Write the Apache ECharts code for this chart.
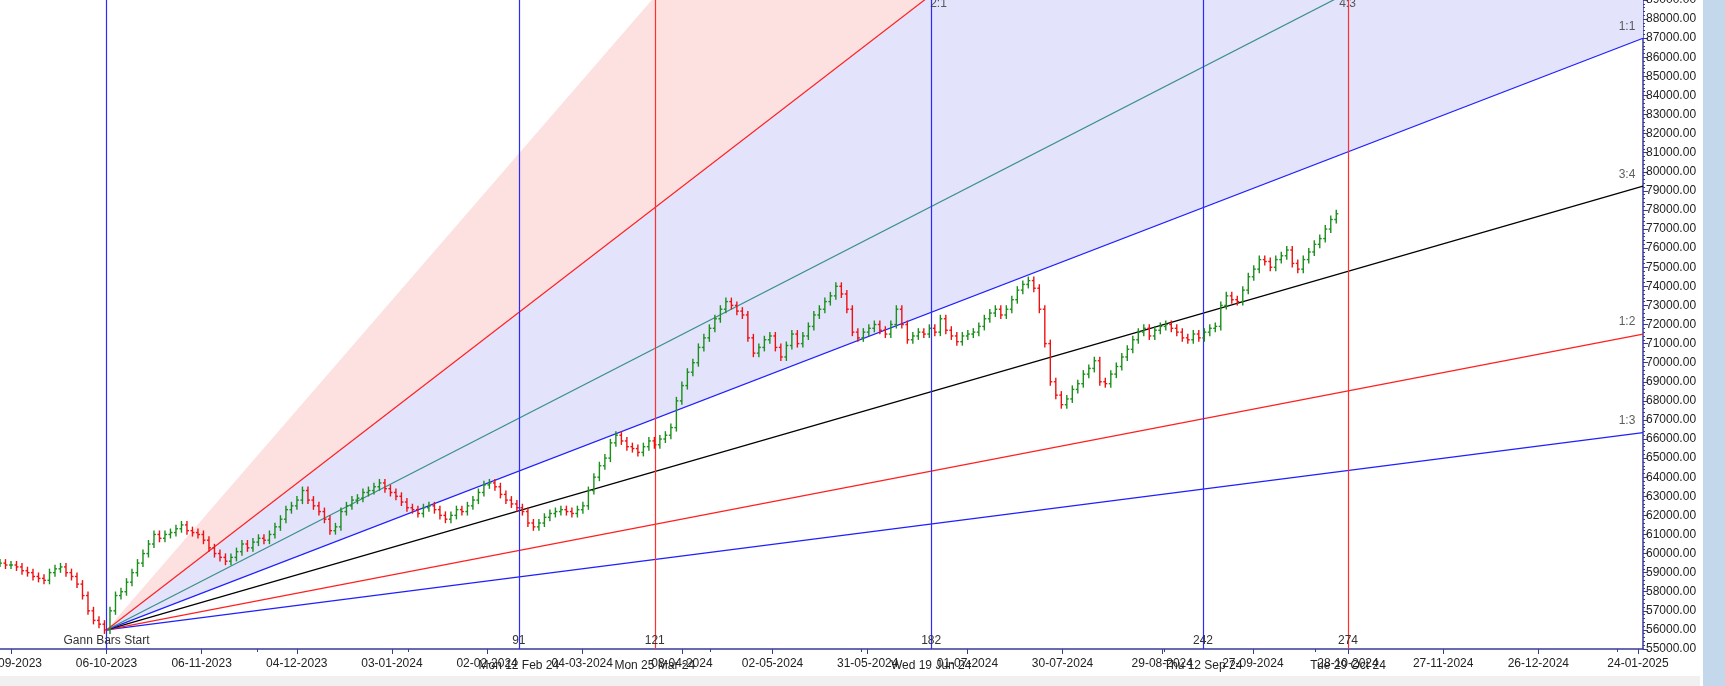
<!DOCTYPE html>
<html><head><meta charset="utf-8">
<script src="https://cdn.jsdelivr.net/npm/echarts@6/dist/echarts.min.js"></script>
<style>html,body{margin:0;padding:0;background:#fff}#c{width:1725px;height:686px}</style>
</head><body><div id="c"></div>
<script>
// price closes, one point every ~1.2 trading days, starting 23.5 bars before the Gann start
const firstDay = -23.5;
const daysPerPoint = 1.2136;
const closes = [59500,59400,59400,59300,59100,59000,58800,58700,58600,59000,59200,59300,59000,58800,58400,57800,57000,56500,56300,56000,
57000,57800,58000,58500,59000,59500,60000,60500,61000,60800,61000,61100,61300,61500,61200,61100,61000,60700,60300,60000,
59800,59600,59800,60100,60500,60300,60600,60800,60700,61000,61400,61800,62300,62500,62800,63300,62800,62500,62200,61800,
61200,61400,62200,62500,62800,62900,63200,63300,63500,63700,63400,63200,63000,62700,62400,62300,62100,62400,62500,62300,
62000,61800,62000,62300,62200,62500,62800,63200,63600,63700,63500,63100,62800,62600,62400,62200,61600,61400,61600,61900,
62100,62200,62300,62200,62100,62300,62500,63300,64000,64600,65000,65800,66200,65900,65600,65500,65300,65600,65900,65700,
66000,66200,66600,68000,68800,69500,70000,70800,71300,71800,72300,72800,73200,73000,72700,72500,71300,70500,70800,71200,
71400,70800,70300,70900,71500,71000,71400,71900,72500,72800,73200,73500,74000,73600,72800,71600,71300,71600,71800,72000,
71700,71500,72000,72800,72000,71200,71400,71600,71500,71800,71600,72300,71700,71400,71100,71400,71500,71600,71900,72300,
72600,72800,72500,72800,73300,73800,74100,74300,73900,72800,71000,69000,68300,67800,68100,68600,68900,69400,69700,70100,
69000,68900,69400,69800,70300,70700,71200,71600,71800,71400,71700,71900,72000,71800,71600,71300,71200,71500,71300,71600,
71800,71900,73000,73500,73300,73200,73800,74500,74900,75400,75300,75000,75400,75600,75900,75200,74900,75400,75800,76200,
76500,77000,77500,77800];
const gannStart = {bar: 0, price: 56000};
const unitPerBar = 91.4; // 1:1 points per bar
const fanRatios = [
  {name:'1:3', k:1/3, color:'#1f1fff'},
  {name:'1:2', k:1/2, color:'#ff2020'},
  {name:'3:4', k:3/4, color:'#000000'},
  {name:'1:1', k:1, color:'#1f1fff'},
  {name:'4:3', k:4/3, color:'#3a8f8a'},
  {name:'2:1', k:2, color:'#ff2020'}
];
const fills = [
  {from:1, to:2, color:'#e3e3fb'},
  {from:2, to:3, color:'#fde0e0'}
];
const gannBars = [
  {bar:0, color:'#2b2bff', label:''},
  {bar:91, color:'#2b2bff', label:'91'},
  {bar:121, color:'#ff3030', label:'121'},
  {bar:182, color:'#2b2bff', label:'182'},
  {bar:242, color:'#2b2bff', label:'242'},
  {bar:274, color:'#ff3030', label:'274'}
];
const gannDates = {91:'Mon 12 Feb 24',121:'Mon 25 Mar 24',182:'Wed 19 Jun 24',242:'Thu 12 Sep 24',274:'Tue 29 Oct 24'};
const dateTickBars = [-21,0,21,42,63,84,105,127,147,168,190,211,233,253,274,295,316,338];
const dateTickLabels = ['07-09-2023','06-10-2023','06-11-2023','04-12-2023','03-01-2024','02-02-2024','04-03-2024','03-04-2024','02-05-2024','31-05-2024','01-07-2024','30-07-2024','29-08-2024','27-09-2024','28-10-2024','27-11-2024','26-12-2024','24-01-2025'];
const xMin = -23.5, xMax = 339.1, yMin = 55000, yMax = 89000;

const ohlc = closes.map((c,i)=>{
  const o = i ? closes[i-1] : c;
  return [firstDay + i*daysPerPoint, o, c, Math.min(o,c), Math.max(o,c)];
});
const fanY = k => gannStart.price + unitPerBar*k*(xMax-gannStart.bar);
const lbl = {color:'#333',fontSize:12,fontFamily:'Liberation Sans'};
const fanSeries = fanRatios.map(f=>({
  type:'line', name:f.name, symbol:'none', silent:true, z:3,
  lineStyle:{color:f.color, width:1.2},
  data:[[gannStart.bar,gannStart.price],[xMax,fanY(f.k)]]
}));
const ratioLabelPts = fanRatios.map(f=>{
  const top = (f.name==='2:1'||f.name==='4:3');
  const x = top ? gannStart.bar+(yMax-gannStart.price)/(unitPerBar*f.k) : xMax;
  const y = top ? yMax : fanY(f.k);
  return {name:f.name, value:[x,y], label:{offset: top?[14,4]:[-16,-12]}};
});
const ratioSeries = {
  type:'scatter', z:6, silent:true, symbolSize:2, itemStyle:{color:'rgba(0,0,0,0)'}, clip:false,
  data:ratioLabelPts,
  label:Object.assign({show:true,position:'inside',formatter:'{b}'},lbl)
};
const fillSeries = {
  type:'custom', z:1, silent:true, clip:true,
  data:fills.map((f,i)=>[i]),
  renderItem:(p,api)=>{
    const f = fills[api.value(0)];
    const o = api.coord([gannStart.bar,gannStart.price]);
    const a = api.coord([xMax,fanY(f.from)]);
    const b = api.coord([xMax,fanY(f.to)]);
    return {type:'polygon',shape:{points:[o,a,b]},style:{fill:f.color}};
  }
};
const ohlcSeries = {
  type:'custom', z:5, data:ohlc, encode:{x:0,y:[1,2,3,4]},
  renderItem:(p,api)=>{
    const x=api.value(0),o=api.value(1),c=api.value(2),l=api.value(3),h=api.value(4);
    const pL=api.coord([x,l]),pH=api.coord([x,h]),pO=api.coord([x,o]),pC=api.coord([x,c]);
    const col = c>=o ? '#1a8f1a' : '#ee1111';
    const st={stroke:col,lineWidth:1.4};
    return {type:'group',children:[
      {type:'line',shape:{x1:pL[0],y1:pL[1]+4,x2:pH[0],y2:pH[1]-4},style:st},
      {type:'line',shape:{x1:pO[0]-2,y1:pO[1],x2:pO[0],y2:pO[1]},style:st},
      {type:'line',shape:{x1:pC[0],y1:pC[1],x2:pC[0]+2,y2:pC[1]},style:st}
    ]};
  }
};
const vSeries = {
  type:'line', data:[], z:4,
  markLine:{symbol:'none',silent:true,animation:false,
    data:gannBars.map(g=>({xAxis:g.bar,lineStyle:{color:g.color,width:1.2,type:'solid'},
      label:Object.assign({show:true,position:'start',formatter:g.label||'Gann Bars Start',distance:-14},lbl)}))}
};
const chart = echarts.init(document.getElementById('c'));
chart.setOption({
  animation:false,
  backgroundColor:'#fff',
  grid:{left:0,right:82,top:0,bottom:37,containLabel:false,outerBoundsMode:'none'},
  xAxis:[{type:'value',min:xMin,max:xMax,splitLine:{show:false},
    axisLine:{onZero:false,lineStyle:{color:'#3a3a9a',width:1.5}},
    axisTick:{customValues:dateTickBars,lineStyle:{color:'#3a3a9a'}},
    minorTick:{show:true,splitNumber:3,length:3,lineStyle:{color:'#3a3a9a'}},
    axisLabel:{customValues:dateTickBars,formatter:v=>dateTickLabels[dateTickBars.indexOf(v)],color:'#222',fontSize:12,fontFamily:'Liberation Sans',margin:9,hideOverlap:false}},
   {type:'value',min:xMin,max:xMax,position:'bottom',splitLine:{show:false},axisLine:{show:false},axisTick:{show:false},
    axisLabel:{customValues:[91,121,182,242,274],formatter:v=>gannDates[v],color:'#222',fontSize:12,fontFamily:'Liberation Sans',margin:11}}],
  yAxis:{type:'value',position:'right',min:yMin,max:yMax,interval:1000,splitLine:{show:false},
    axisLine:{show:true,onZero:false,lineStyle:{color:'#3a3a9a',width:1.5}},
    axisTick:{show:true,length:5,lineStyle:{color:'#3a3a9a'}},
    minorTick:{show:true,splitNumber:5,length:2,lineStyle:{color:'#3a3a9a'}},
    axisLabel:{formatter:v=>v.toFixed(2),color:'#222',fontSize:12,fontFamily:'Liberation Sans',margin:3}},
  graphic:[
    {type:'rect',shape:{x:0,y:676,width:1700,height:10},style:{fill:'#f0f0f0'},z:-1},
    {type:'rect',shape:{x:1703,y:0,width:22,height:686},style:{fill:'#c4d8ec'},z:-1}
  ],
  series:[fillSeries,...fanSeries,vSeries,ohlcSeries,ratioSeries]
});
</script></body></html>
